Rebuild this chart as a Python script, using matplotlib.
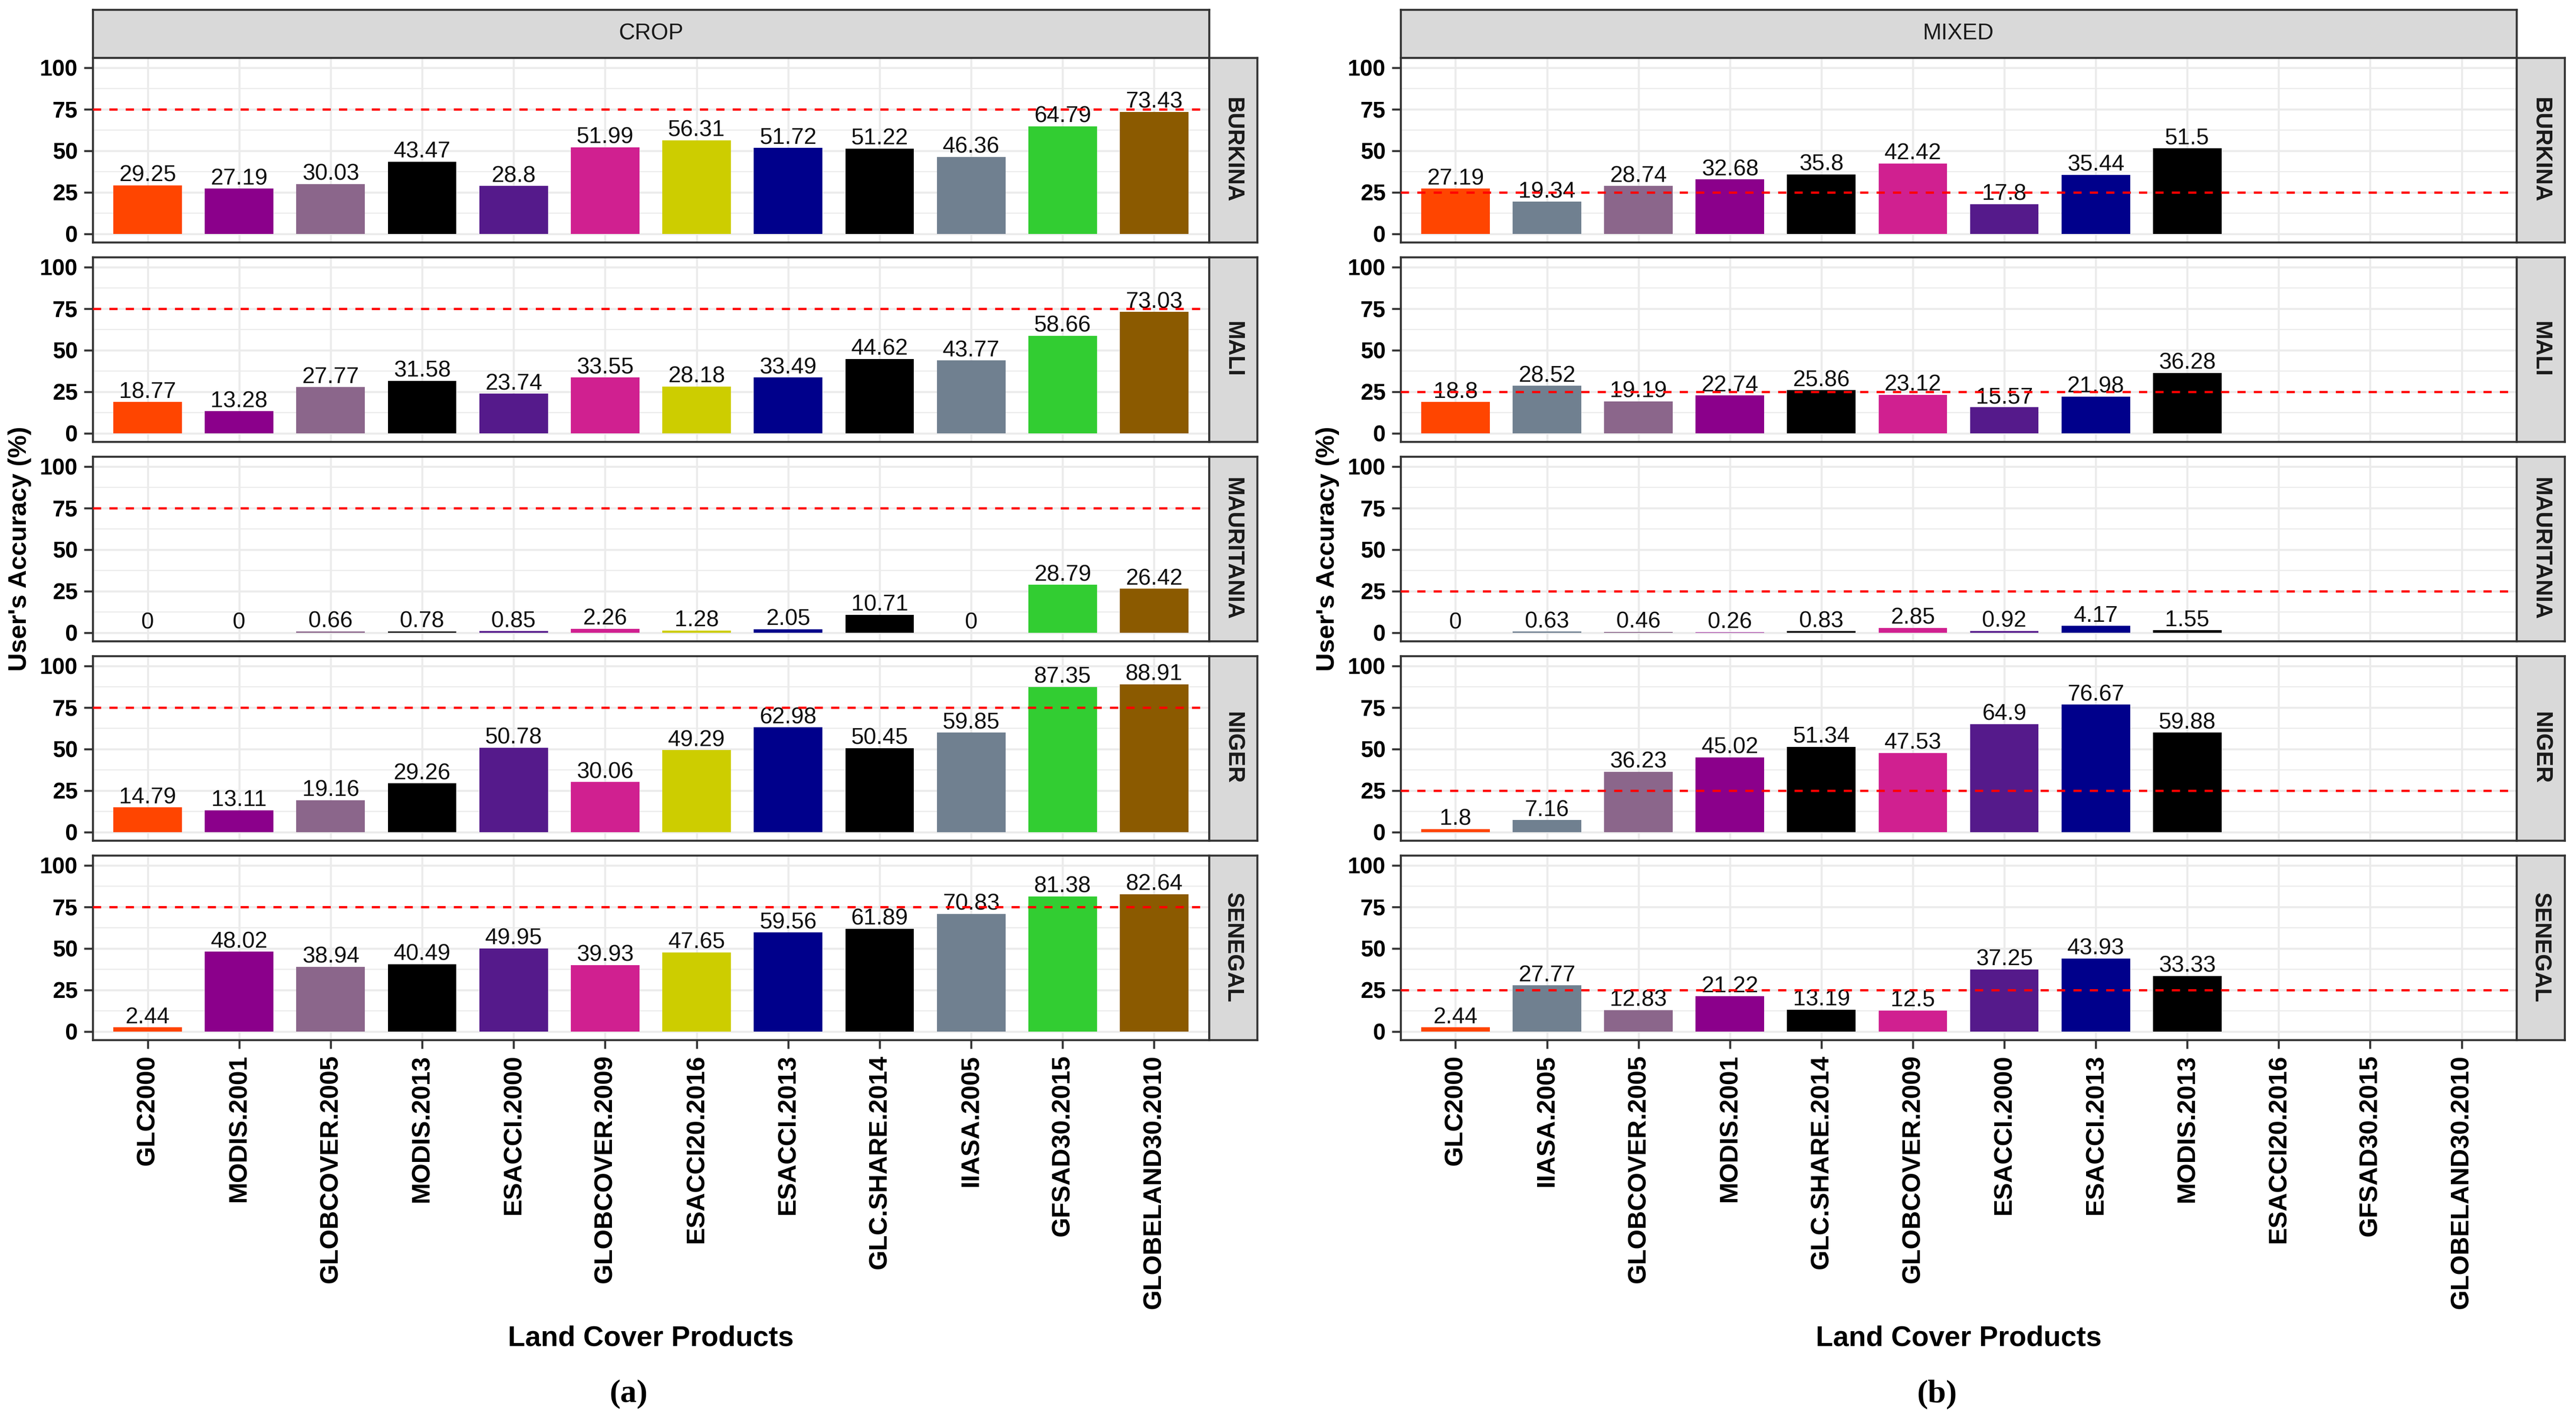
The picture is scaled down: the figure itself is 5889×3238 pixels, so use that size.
import matplotlib
matplotlib.use("Agg")
import matplotlib.pyplot as plt
import numpy as np

plt.rcParams['font.family'] = ['Liberation Sans', 'DejaVu Sans']

# ---------------- data ----------------
countries = ["BURKINA", "MALI", "MAURITANIA", "NIGER", "SENEGAL"]

crop_products = ["GLC2000", "MODIS.2001", "GLOBCOVER.2005", "MODIS.2013", "ESACCI.2000",
                 "GLOBCOVER.2009", "ESACCI20.2016", "ESACCI.2013", "GLC.SHARE.2014",
                 "IIASA.2005", "GFSAD30.2015", "GLOBELAND30.2010"]
crop_burkina = [29.25, 27.19, 30.03, 43.47, 28.8, 51.99, 56.31, 51.72, 51.22, 46.36, 64.79, 73.43]
crop_mali = [18.77, 13.28, 27.77, 31.58, 23.74, 33.55, 28.18, 33.49, 44.62, 43.77, 58.66, 73.03]
crop_mauritania = [0, 0, 0.66, 0.78, 0.85, 2.26, 1.28, 2.05, 10.71, 0, 28.79, 26.42]
crop_niger = [14.79, 13.11, 19.16, 29.26, 50.78, 30.06, 49.29, 62.98, 50.45, 59.85, 87.35, 88.91]
crop_senegal = [2.44, 48.02, 38.94, 40.49, 49.95, 39.93, 47.65, 59.56, 61.89, 70.83, 81.38, 82.64]

mixed_products = ["GLC2000", "IIASA.2005", "GLOBCOVER.2005", "MODIS.2001", "GLC.SHARE.2014",
                  "GLOBCOVER.2009", "ESACCI.2000", "ESACCI.2013", "MODIS.2013",
                  "ESACCI20.2016", "GFSAD30.2015", "GLOBELAND30.2010"]
mixed_burkina = [27.19, 19.34, 28.74, 32.68, 35.8, 42.42, 17.8, 35.44, 51.5]
mixed_mali = [18.8, 28.52, 19.19, 22.74, 25.86, 23.12, 15.57, 21.98, 36.28]
mixed_mauritania = [0, 0.63, 0.46, 0.26, 0.83, 2.85, 0.92, 4.17, 1.55]
mixed_niger = [1.8, 7.16, 36.23, 45.02, 51.34, 47.53, 64.9, 76.67, 59.88]
mixed_senegal = [2.44, 27.77, 12.83, 21.22, 13.19, 12.5, 37.25, 43.93, 33.33]

crop_threshold = 75
mixed_threshold = 25

product_colors = {
    "GLC2000": "#FF4500", "MODIS.2001": "#8B008B", "GLOBCOVER.2005": "#8B668B",
    "MODIS.2013": "#000000", "ESACCI.2000": "#551A8B", "GLOBCOVER.2009": "#D02090",
    "ESACCI20.2016": "#CDCD00", "ESACCI.2013": "#00008B", "GLC.SHARE.2014": "#000000",
    "IIASA.2005": "#708090", "GFSAD30.2015": "#32CD32", "GLOBELAND30.2010": "#8B5A00",
}

crop_data = [crop_burkina, crop_mali, crop_mauritania, crop_niger, crop_senegal]
mixed_data = [mixed_burkina, mixed_mali, mixed_mauritania, mixed_niger, mixed_senegal]

# ---------------- layout ----------------
W, H = 5889, 3238
DPI = 300
fig = plt.figure(figsize=(W / DPI, H / DPI), dpi=DPI)
fig.patch.set_facecolor("white")


def rect(x0, y0, x1, y1):
    return [x0 / W, 1 - y1 / H, (x1 - x0) / W, (y1 - y0) / H]


PX = [(212, 2764), (3202, 5753)]
STRIP = 110
ROW_TOP = 132
ROW_H = 422
ROW_PITCH = 456
BORDER = "#333333"
GRID = "#EBEBEB"
LW_BORDER = 1.1

panels = [("CROP", crop_products, crop_data, crop_threshold),
          ("MIXED", mixed_products, mixed_data, mixed_threshold)]

for c, (title, prods, data, thr) in enumerate(panels):
    x0, x1 = PX[c]
    # top strip
    sax = fig.add_axes(rect(x0, ROW_TOP - STRIP, x1, ROW_TOP))
    sax.set_facecolor("#D9D9D9")
    sax.set_xticks([]); sax.set_yticks([])
    for sp in sax.spines.values():
        sp.set_color(BORDER); sp.set_linewidth(LW_BORDER)
    sax.text(0.5, 0.5, title, ha="center", va="center", fontsize=12.3,
             color="#1A1A1A", transform=sax.transAxes)

    xpos = np.arange(len(prods))
    for r, country in enumerate(countries):
        y0 = ROW_TOP + r * ROW_PITCH
        y1 = y0 + ROW_H
        ax = fig.add_axes(rect(x0, y0, x1, y1))
        vals = data[r]
        n = len(vals)
        cols = [product_colors[p] for p in prods[:n]]
        ax.bar(xpos[:n], vals, width=0.75, color=cols, zorder=2)
        for xi, v in zip(xpos[:n], vals):
            ax.annotate(f"{v:g}", (xi, v), xytext=(0, 2.2), textcoords="offset points",
                        ha="center", va="baseline", fontsize=12.5, color="#111111", zorder=3)
        ax.axhline(thr, color="#FF0000", lw=1.25, ls=(0, (3.6, 3.6)), zorder=4)

        ax.set_xlim(-0.6, len(prods) - 0.4)
        ax.set_ylim(-5.1, 106.0)
        ax.set_yticks([0, 25, 50, 75, 100])
        ax.set_yticks([12.5, 37.5, 62.5, 87.5], minor=True)
        ax.set_xticks(xpos)
        ax.grid(True, which="major", color=GRID, lw=1.1, zorder=0)
        ax.grid(True, which="minor", axis="y", color=GRID, lw=0.6, zorder=0)
        ax.set_axisbelow(True)
        for sp in ax.spines.values():
            sp.set_color(BORDER); sp.set_linewidth(LW_BORDER)
        ax.tick_params(axis="both", which="major", length=4.8, width=1.1, color=BORDER,
                       pad=3.4, labelsize=12.5, labelcolor="black")
        ax.tick_params(axis="y", which="minor", length=0)
        for lab in ax.get_yticklabels():
            lab.set_fontweight("bold")
        if r == len(countries) - 1:
            ax.set_xticklabels(prods, rotation=90, fontsize=14, fontweight="bold",
                               ha="center", va="top")
        else:
            ax.tick_params(axis="x", length=0, labelbottom=False)

        # right strip
        rax = fig.add_axes(rect(x1, y0, x1 + STRIP, y1))
        rax.set_facecolor("#D9D9D9")
        rax.set_xticks([]); rax.set_yticks([])
        for sp in rax.spines.values():
            sp.set_color(BORDER); sp.set_linewidth(LW_BORDER)
        rax.text(0.5, 0.5, country, ha="center", va="center", rotation=270,
                 fontsize=12.5, fontweight="bold", color="#1A1A1A", transform=rax.transAxes)

    # axis titles
    ylab_x = [45, 3035][c]
    fig.text(ylab_x / W, 1 - 1255 / H, "User's Accuracy (%)", rotation=90, ha="center",
             va="center", fontsize=14, fontweight="bold", color="black")
    fig.text(((x0 + x1) / 2) / W, 1 - 3060 / H, "Land Cover Products", ha="center",
             va="center", fontsize=15.5, fontweight="bold", color="black")
    sub_x = [1437, 4428][c]
    fig.text(sub_x / W, 1 - 3188 / H, ["(a)", "(b)"][c], ha="center", va="center",
             fontsize=18, fontweight="bold", family=["Liberation Serif", "DejaVu Serif"],
             color="black")

fig.savefig("out.png", dpi=DPI, facecolor="white")
